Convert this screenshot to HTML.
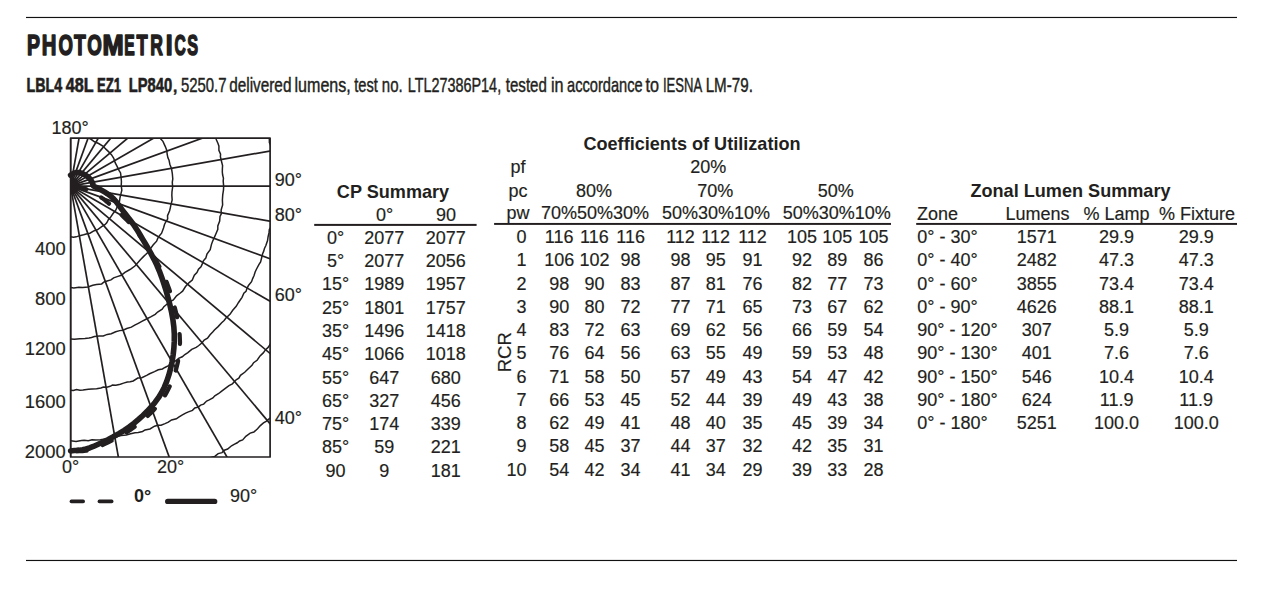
<!DOCTYPE html>
<html><head><meta charset="utf-8"><title>Photometrics</title>
<style>
html,body{margin:0;padding:0;background:#fff;}
body{width:1275px;height:616px;overflow:hidden;}
svg{display:block;}
svg text{font-family:"Liberation Sans", sans-serif;fill:#231f20;}
svg text.t{stroke:#231f20;stroke-width:0.18px;}
</style></head><body>
<svg width="1275" height="616" viewBox="0 0 1275 616">
<rect width="1275" height="616" fill="#fff"/>
<rect x="26" y="16.9" width="1211" height="1.15" fill="#111"/>
<rect x="26" y="559.9" width="1211" height="1.15" fill="#111"/>
<text transform="translate(26.99,54.8) scale(0.6807,1.0)" font-size="28.6" font-weight="bold" stroke="#231f20" stroke-width="1.6" stroke-linejoin="round">P</text>
<text transform="translate(41.63,54.8) scale(0.7082,1.0)" font-size="28.6" font-weight="bold" stroke="#231f20" stroke-width="1.6" stroke-linejoin="round">H</text>
<text transform="translate(58.56,54.8) scale(0.6490,1.0)" font-size="28.6" font-weight="bold" stroke="#231f20" stroke-width="1.6" stroke-linejoin="round">O</text>
<text transform="translate(74.11,54.8) scale(0.6756,1.0)" font-size="28.6" font-weight="bold" stroke="#231f20" stroke-width="1.6" stroke-linejoin="round">T</text>
<text transform="translate(87.35,54.8) scale(0.6540,1.0)" font-size="28.6" font-weight="bold" stroke="#231f20" stroke-width="1.6" stroke-linejoin="round">O</text>
<text transform="translate(102.58,54.8) scale(0.8891,1.0)" font-size="28.6" font-weight="bold" stroke="#231f20" stroke-width="1.6" stroke-linejoin="round">M</text>
<text transform="translate(124.34,54.8) scale(0.5495,1.0)" font-size="28.6" font-weight="bold" stroke="#231f20" stroke-width="1.6" stroke-linejoin="round">E</text>
<text transform="translate(136.52,54.8) scale(0.6400,1.0)" font-size="28.6" font-weight="bold" stroke="#231f20" stroke-width="1.6" stroke-linejoin="round">T</text>
<text transform="translate(150.22,54.8) scale(0.6136,1.0)" font-size="28.6" font-weight="bold" stroke="#231f20" stroke-width="1.6" stroke-linejoin="round">R</text>
<text transform="translate(165.64,54.8) scale(0.8588,1.0)" font-size="28.6" font-weight="bold" stroke="#231f20" stroke-width="1.6" stroke-linejoin="round">I</text>
<text transform="translate(174.38,54.8) scale(0.5445,1.0)" font-size="28.6" font-weight="bold" stroke="#231f20" stroke-width="1.6" stroke-linejoin="round">C</text>
<text transform="translate(187.31,54.8) scale(0.5676,1.0)" font-size="28.6" font-weight="bold" stroke="#231f20" stroke-width="1.6" stroke-linejoin="round">S</text>
<text transform="translate(26.54,91.7) scale(0.7007,1.0)" font-size="20.400000000000002" font-weight="bold" stroke="#231f20" stroke-width="0.65">LBL4</text>
<text transform="translate(65.86,91.7) scale(0.7919,1.0)" font-size="20.400000000000002" font-weight="bold" stroke="#231f20" stroke-width="0.65">48L</text>
<text transform="translate(97.01,91.7) scale(0.6461,1.0)" font-size="20.400000000000002" font-weight="bold" stroke="#231f20" stroke-width="0.65">EZ1</text>
<text transform="translate(128.70,91.7) scale(0.7238,1.0)" font-size="20.400000000000002" font-weight="bold" stroke="#231f20" stroke-width="0.65">LP840</text>
<text transform="translate(172.07,91.8) scale(1.0953,1.0)" font-size="20.6" stroke="#231f20" stroke-width="0.45">,</text>
<text transform="translate(180.90,91.8) scale(0.7247,1.0)" font-size="20.6" stroke="#231f20" stroke-width="0.45">5250.7</text>
<text transform="translate(229.25,91.8) scale(0.7443,1.0)" font-size="20.6" stroke="#231f20" stroke-width="0.45">delivered</text>
<text transform="translate(294.52,91.8) scale(0.7799,1.0)" font-size="20.6" stroke="#231f20" stroke-width="0.45">lumens,</text>
<text transform="translate(354.18,91.8) scale(0.7114,1.0)" font-size="20.6" stroke="#231f20" stroke-width="0.45">test</text>
<text transform="translate(381.79,91.8) scale(0.7286,1.0)" font-size="20.6" stroke="#231f20" stroke-width="0.45">no.</text>
<text transform="translate(407.71,91.8) scale(0.6995,1.0)" font-size="20.6" stroke="#231f20" stroke-width="0.45">LTL27386P14,</text>
<text transform="translate(505.77,91.8) scale(0.7323,1.0)" font-size="20.6" stroke="#231f20" stroke-width="0.45">tested</text>
<text transform="translate(551.01,91.8) scale(0.7872,1.0)" font-size="20.6" stroke="#231f20" stroke-width="0.45">in</text>
<text transform="translate(567.08,91.8) scale(0.7103,1.0)" font-size="20.6" stroke="#231f20" stroke-width="0.45">accordance</text>
<text transform="translate(645.46,91.8) scale(0.7867,1.0)" font-size="20.6" stroke="#231f20" stroke-width="0.45">to</text>
<text transform="translate(662.89,91.8) scale(0.6344,1.0)" font-size="20.6" stroke="#231f20" stroke-width="0.45">IESNA</text>
<text transform="translate(705.65,91.8) scale(0.7381,1.0)" font-size="20.6" stroke="#231f20" stroke-width="0.45">LM-79.</text>
<defs><clipPath id="bx"><rect x="70.6" y="138.1" width="199.50000000000003" height="318.9"/></clipPath></defs>
<g clip-path="url(#bx)" fill="none" stroke="#231f20">
<line x1="70.6" y1="186.1" x2="70.60" y2="686.10" stroke-width="1.7"/>
<line x1="70.6" y1="186.1" x2="157.42" y2="678.50" stroke-width="1.7"/>
<line x1="70.6" y1="186.1" x2="241.61" y2="655.95" stroke-width="1.7"/>
<line x1="70.6" y1="186.1" x2="320.60" y2="619.11" stroke-width="1.7"/>
<line x1="70.6" y1="186.1" x2="391.99" y2="569.12" stroke-width="1.7"/>
<line x1="70.6" y1="186.1" x2="453.62" y2="507.49" stroke-width="1.7"/>
<line x1="70.6" y1="186.1" x2="503.61" y2="436.10" stroke-width="1.7"/>
<line x1="70.6" y1="186.1" x2="540.45" y2="357.11" stroke-width="1.7"/>
<line x1="70.6" y1="186.1" x2="563.00" y2="272.92" stroke-width="1.7"/>
<line x1="70.6" y1="186.1" x2="570.60" y2="186.10" stroke-width="1.7"/>
<line x1="70.6" y1="186.1" x2="563.00" y2="99.28" stroke-width="1.7"/>
<line x1="70.6" y1="186.1" x2="540.45" y2="15.09" stroke-width="1.7"/>
<line x1="70.6" y1="186.1" x2="503.61" y2="-63.90" stroke-width="1.7"/>
<line x1="70.6" y1="186.1" x2="453.62" y2="-135.29" stroke-width="1.7"/>
<line x1="70.6" y1="186.1" x2="391.99" y2="-196.92" stroke-width="1.7"/>
<line x1="70.6" y1="186.1" x2="320.60" y2="-246.91" stroke-width="1.7"/>
<line x1="70.6" y1="186.1" x2="241.61" y2="-283.75" stroke-width="1.7"/>
<line x1="70.6" y1="186.1" x2="157.42" y2="-306.30" stroke-width="1.7"/>
<line x1="70.6" y1="186.1" x2="70.60" y2="-313.90" stroke-width="1.7"/>
<path d="M70.60,236.85 L73.56,237.23 L76.26,236.84 L79.70,235.65 L83.57,234.75 L87.17,233.69 L89.92,233.18 L94.23,230.70 L97.32,229.75 L101.69,226.66 L104.92,224.72 L106.75,222.78 L108.35,219.65 L110.34,217.63 L113.06,213.53 L115.76,210.21 L117.24,206.90 L117.63,204.17 L119.48,201.52 L119.99,197.74 L120.98,193.61 L121.84,190.28 L121.24,185.65 L121.42,181.43 L120.98,176.30 L120.56,172.91 L119.00,170.38 L116.97,166.08 L115.14,162.61 L113.75,158.22 L111.42,154.65 L109.02,152.14 L105.92,149.15 L103.25,146.30 L98.63,143.54 L94.51,141.75 L90.73,139.02 L85.64,136.90 L82.23,136.61 L77.75,136.28 L73.95,135.68 L71.13,135.72" stroke-width="1.5"/>
<path d="M70.60,287.58 L73.84,287.90 L78.90,287.17 L82.78,287.44 L87.95,287.07 L92.80,285.34 L96.46,284.56 L101.65,283.93 L104.11,281.96 L107.12,280.94 L110.97,279.91 L113.62,277.82 L117.20,276.63 L121.29,275.34 L124.91,272.46 L128.68,270.25 L131.04,268.96 L134.88,265.97 L138.19,262.29 L140.62,259.50 L143.68,256.37 L145.67,254.55 L147.78,252.44 L149.12,250.11 L151.05,247.89 L153.09,244.96 L156.63,241.19 L157.75,238.42 L159.65,235.44 L161.61,233.23 L163.52,228.05 L164.58,224.22 L165.93,221.75 L167.68,218.87 L167.52,215.69 L169.62,210.73 L170.31,207.87 L170.81,205.34 L172.16,200.04 L171.84,195.38 L171.97,191.79 L172.64,187.01 L172.29,182.18 L172.79,178.98 L172.32,173.52 L171.55,168.64 L169.82,164.17 L169.05,160.20 L167.92,157.84 L167.25,154.57 L166.65,149.92 L165.19,146.34 L162.95,141.32 L160.41,138.57 L158.85,135.81 L157.79,132.83 L155.21,128.29 L152.71,125.22 L149.07,121.85 L147.04,117.70 L143.54,114.30 L140.17,112.12 L136.70,108.73 L133.46,104.93 L130.02,103.36 L125.85,99.98 L122.85,99.11 L120.85,96.68 L116.00,95.31 L111.99,92.14 L107.51,91.24 L103.52,90.11 L101.48,88.19 L97.02,87.54 L91.83,86.43 L86.90,84.95 L83.68,85.29 L80.33,84.93 L76.10,84.59 L72.36,84.63" stroke-width="1.5"/>
<path d="M70.60,338.90 L74.48,339.17 L79.68,338.72 L84.92,338.43 L89.00,338.02 L91.51,337.58 L94.43,336.53 L99.28,335.92 L103.27,335.89 L107.21,334.40 L111.21,333.69 L115.69,331.73 L119.71,330.63 L123.10,330.22 L126.76,328.51 L131.38,327.14 L134.71,325.19 L138.28,323.34 L142.32,321.18 L145.93,319.24 L150.67,316.80 L155.20,314.33 L157.62,312.04 L162.19,309.25 L163.90,306.69 L166.84,304.27 L169.31,302.21 L173.36,299.99 L176.55,295.81 L180.34,293.03 L182.59,291.13 L185.53,286.50 L189.17,282.57 L192.28,279.97 L194.34,275.27 L196.93,272.46 L198.50,269.28 L200.98,266.76 L202.10,264.45 L203.37,260.77 L205.79,258.12 L206.94,254.18 L210.20,249.70 L211.48,244.35 L212.62,241.27 L214.59,236.86 L215.73,234.20 L217.82,229.36 L217.81,225.96 L219.67,221.01 L219.99,216.38 L221.32,213.92 L221.11,210.05 L222.63,204.91 L222.39,199.96 L222.74,194.92 L223.49,189.87 L223.67,186.35 L223.19,181.09 L223.43,178.19 L222.65,175.02 L222.32,172.07 L222.37,168.95 L222.57,165.48 L221.72,162.20 L221.01,159.24 L220.40,156.76 L220.56,154.13 L218.89,150.25 L218.93,146.19 L218.02,143.51 L216.48,140.00 L214.76,135.30 L213.76,131.38 L211.28,126.51 L209.72,121.74 L207.43,117.94 L205.38,115.02 L204.04,112.48 L201.92,108.26 L200.17,105.84 L198.39,101.02 L195.15,97.76 L193.27,95.15 L190.78,92.19 L188.50,89.11 L185.76,84.36 L182.22,81.98 L178.54,78.04 L175.69,75.86 L173.48,72.90 L170.23,70.54 L166.99,68.17 L164.50,66.03 L161.53,63.85 L159.68,62.05 L157.29,59.89 L154.02,57.42 L150.19,55.08 L145.53,52.88 L142.87,50.48 L140.08,49.43 L135.69,48.34 L131.62,45.20 L127.48,43.71 L122.57,42.73 L118.90,40.92 L114.24,39.01 L109.36,37.97 L104.35,36.61 L99.74,36.29 L97.17,35.95 L93.65,35.41 L88.78,34.10 L84.42,33.55 L79.88,33.40 L77.39,32.83 L72.63,33.11" stroke-width="1.5"/>
<path d="M70.60,390.32 L73.30,390.41 L76.54,389.42 L79.86,390.21 L82.98,390.06 L88.37,389.32 L92.00,388.94 L96.57,388.82 L100.86,388.05 L103.45,386.94 L106.81,387.21 L110.12,386.33 L112.46,385.13 L115.87,385.26 L120.33,384.20 L123.54,383.14 L127.27,382.02 L130.18,381.78 L133.18,380.97 L137.79,378.00 L141.81,377.74 L146.67,375.31 L149.60,373.74 L154.48,371.61 L158.28,369.74 L162.43,368.97 L164.94,367.48 L168.54,365.67 L172.12,362.61 L176.76,360.28 L178.59,358.35 L182.27,356.74 L184.86,354.49 L187.90,352.69 L191.70,349.40 L196.20,347.46 L198.52,345.77 L202.10,342.80 L204.18,340.05 L207.52,338.26 L210.06,334.71 L212.71,332.02 L214.42,329.99 L218.09,326.60 L221.66,322.68 L224.12,320.46 L225.98,318.01 L229.96,314.33 L232.73,310.22 L236.21,306.27 L238.37,302.70 L239.88,300.52 L242.04,297.32 L243.86,293.22 L246.00,291.43 L246.92,288.62 L248.46,285.43 L251.55,281.74 L252.66,278.61 L254.06,275.50 L255.14,271.95 L256.43,269.26 L258.87,264.64 L260.60,261.92 L261.97,256.56 L262.62,253.70 L263.72,251.15 L264.45,248.47 L265.87,245.49 L267.55,240.60 L268.06,236.86 L268.98,232.90 L269.33,229.38 L271.25,226.38 L271.16,223.42 L272.41,219.18 L272.08,215.94 L272.71,212.76 L273.95,209.04 L274.34,203.99 L273.37,201.34 L274.87,196.80 L274.61,192.86 L274.40,190.35 L275.05,185.07 L275.17,179.99 L273.84,176.79 L274.26,173.80 L274.52,169.22 L273.67,164.61 L272.85,159.87 L271.69,155.85 L271.18,151.03 L270.78,145.76 L269.37,142.57 L269.34,139.24 L267.53,134.96 L267.39,132.20 L266.04,128.16 L265.40,125.04 L264.23,122.76 L263.85,118.79 L262.25,114.64 L259.99,111.30 L259.72,107.91 L257.07,104.02 L256.26,101.57 L254.24,97.53 L253.11,94.44 L250.13,90.04 L249.03,87.68 L247.60,84.17 L246.17,81.41 L243.36,77.60 L242.23,74.62 L240.15,71.86 L237.66,69.70 L234.97,65.76 L231.97,61.31 L229.78,59.14 L227.90,55.84 L223.88,52.24 L221.51,49.44 L217.76,45.54 L215.83,43.72 L214.06,40.29 L210.18,36.88 L206.30,32.97 L202.98,31.46 L199.41,27.46 L197.31,25.93 L194.18,24.02 L191.22,22.15 L189.28,20.56 L186.92,17.74 L184.55,16.11 L181.47,15.10 L177.61,11.89 L173.80,10.86 L170.64,8.52 L165.91,6.22 L163.18,3.69 L160.55,3.14 L156.31,0.57 L153.50,0.42 L151.54,-1.80 L148.42,-2.85 L143.38,-4.23 L140.57,-6.21 L136.14,-6.73 L131.75,-8.25 L128.45,-8.80 L124.21,-11.33 L119.95,-12.48 L117.22,-12.12 L113.61,-13.97 L108.19,-14.25 L105.00,-14.88 L101.17,-16.20 L98.12,-16.46 L93.44,-17.07 L88.60,-17.25 L85.10,-17.13 L81.56,-18.00 L78.79,-17.31 L74.04,-17.52 L71.35,-17.25" stroke-width="1.5"/>
<path d="M70.60,440.86 L76.05,441.58 L81.49,440.54 L84.22,440.17 L88.26,440.78 L92.04,439.82 L95.82,440.02 L100.34,439.71 L105.33,438.96 L108.20,438.79 L111.49,437.90 L115.10,437.53 L118.02,436.29 L121.17,435.54 L126.33,435.05 L129.66,434.02 L135.01,432.84 L138.21,432.42 L142.58,431.45 L145.06,429.95 L149.95,428.94 L154.55,426.20 L157.77,425.17 L161.06,425.22 L165.01,423.63 L168.34,422.18 L171.55,419.90 L176.36,418.82 L178.72,417.19 L182.42,414.84 L185.60,413.14 L188.43,411.86 L192.48,410.33 L194.77,408.04 L198.26,407.13 L200.64,405.15 L203.65,404.12 L206.63,401.07 L209.24,399.95 L212.89,397.94 L214.81,395.84 L218.76,393.49 L221.38,391.41 L225.67,388.20 L229.01,385.67 L232.38,383.87 L236.15,379.81 L238.82,378.17 L240.47,375.35 L244.70,372.27 L248.27,368.83 L251.98,365.26 L253.62,362.69 L257.11,360.28 L260.07,355.91 L263.25,352.89 L265.61,349.64 L268.14,347.40 L270.98,342.92 L274.18,340.37 L276.71,335.52 L279.24,333.79 L281.80,328.95 L283.80,327.09 L285.77,323.99 L288.01,320.23 L289.51,317.65 L290.67,314.66 L293.68,310.57 L294.40,307.49 L296.51,304.42 L297.69,300.93 L299.89,298.40 L301.26,293.31 L303.91,289.92 L305.06,287.56 L305.87,284.80 L307.48,280.98 L308.46,277.69 L309.96,273.72 L311.49,269.51 L312.15,265.71 L314.10,261.77 L315.40,258.81 L316.32,254.04 L317.14,251.11 L317.37,248.26 L318.22,244.57 L319.64,240.98 L320.36,238.45 L321.05,235.78 L321.64,230.97 L322.08,228.35 L323.28,224.85 L323.57,221.95 L324.11,216.48 L323.90,211.48 L324.80,206.10 L325.76,200.77 L325.74,197.77 L324.91,192.45 L325.94,188.91 L326.16,185.93 L326.02,182.60 L325.52,179.68 L324.92,174.44 L325.17,171.14 L324.29,167.73 L324.22,164.69 L324.44,159.34 L323.14,154.27 L322.41,149.48 L322.51,145.33 L322.24,141.74 L321.08,137.71 L319.40,132.81 L318.92,127.30 L318.27,123.67 L317.70,120.40 L315.73,116.55 L314.49,111.92 L313.99,108.90 L313.28,106.35 L312.00,103.33 L310.11,98.22 L308.16,94.15 L306.89,91.97 L306.54,88.93 L304.93,85.48 L302.35,80.96 L301.68,77.77 L299.76,75.84 L298.32,72.58 L296.86,69.33 L295.33,65.33 L293.88,62.57 L291.36,59.49 L288.81,54.85 L287.10,52.44 L285.67,48.13 L282.46,44.43 L280.16,42.02 L278.25,37.95 L276.26,35.00 L274.30,31.68 L270.66,28.55 L267.17,24.67 L264.94,21.21 L262.48,19.10 L259.23,15.53 L257.38,11.59 L254.62,10.18 L251.91,6.78 L249.07,3.35 L246.41,1.76 L243.68,-0.30 L240.56,-4.54 L236.35,-6.78 L233.16,-10.81 L230.13,-13.26 L226.66,-15.08 L224.43,-16.80 L222.43,-18.49 L218.88,-21.69 L214.77,-24.60 L211.91,-26.26 L208.90,-28.62 L205.07,-30.18 L201.79,-33.32 L199.01,-34.82 L196.37,-35.34 L193.90,-37.50 L189.20,-40.03 L186.19,-41.79 L182.67,-42.55 L178.19,-45.29 L174.04,-47.23 L168.94,-49.13 L164.41,-51.32 L159.54,-52.79 L155.21,-54.56 L151.81,-55.20 L147.61,-56.37 L142.64,-57.99 L140.15,-58.66 L135.15,-60.37 L132.21,-60.67 L129.88,-62.19 L125.59,-63.18 L120.80,-63.29 L116.69,-64.51 L111.92,-65.98 L106.65,-65.73 L101.75,-67.58 L96.32,-67.05 L93.22,-67.35 L90.72,-68.59 L85.76,-68.64 L80.79,-68.88 L77.41,-68.25 L74.64,-69.23 L71.52,-68.65" stroke-width="1.5"/>
<path d="M70.60,491.43 L73.87,491.78 L78.51,491.81 L82.00,492.54 L86.01,492.20 L90.29,490.81 L94.05,491.11 L98.84,490.58 L103.46,490.38 L106.64,490.48 L109.39,490.08 L112.23,488.55 L115.45,489.17 L120.65,487.28 L124.68,487.27 L129.40,485.95 L133.34,485.38 L138.19,484.20 L143.39,483.01 L146.58,482.81 L150.23,480.99 L154.46,479.77 L159.37,479.23 L163.98,477.69 L167.27,476.28 L170.98,475.74 L173.59,474.83 L175.69,473.05 L179.11,472.81 L182.59,470.69 L187.28,468.58 L191.02,467.46 L195.51,465.83 L199.32,463.48 L202.35,461.75 L207.18,460.18 L211.08,457.43 L214.85,456.40 L218.14,453.58 L222.05,452.61 L224.35,450.17 L227.65,449.06 L231.55,445.79 L234.13,444.32 L237.26,442.77 L239.60,440.91 L242.66,439.95 L245.82,436.28 L250.20,433.16 L253.88,431.99 L257.56,428.75 L260.10,425.82 L263.46,422.96 L266.12,421.29 L268.12,419.63 L272.08,416.77 L275.02,414.05 L277.44,410.93 L280.84,408.26 L284.74,405.49 L287.11,402.49 L290.28,398.96 L292.79,396.95 L296.36,393.23 L299.53,389.89 L302.30,386.28 L304.46,383.04 L307.02,379.48 L310.13,377.16 L312.83,373.38 L314.57,370.62 L317.11,367.69 L319.36,364.71 L321.85,359.99 L325.05,356.77 L326.74,353.49 L329.13,348.59 L331.45,345.18 L334.87,341.58 L335.89,337.48 L338.49,334.10 L340.68,329.99 L343.12,326.28 L344.43,322.39 L346.52,317.46 L348.68,313.45 L350.29,308.93 L352.73,304.05 L353.65,301.55 L354.68,297.98 L356.57,294.69 L358.07,290.35 L359.01,287.19 L361.49,283.04 L361.79,278.85 L363.47,274.24 L364.01,271.13 L366.23,266.74 L366.90,262.36 L367.59,258.22 L368.98,253.01 L370.56,248.83 L371.05,243.88 L371.78,240.58 L372.67,237.81 L373.28,234.29 L373.12,230.93 L373.65,227.71 L373.47,224.60 L374.41,220.03 L374.78,216.81 L375.32,212.91 L376.00,208.54 L376.62,204.98 L375.67,199.86 L377.04,194.92 L376.07,190.05 L376.78,185.06 L375.90,182.53 L376.69,177.16 L375.80,173.94 L375.85,171.01 L375.74,166.18 L376.31,163.18 L374.88,158.40 L374.98,153.20 L374.50,148.37 L373.99,143.21 L372.43,138.37 L372.14,133.78 L371.17,129.15 L370.33,124.07 L369.20,120.95 L368.92,118.02 L368.28,115.42 L367.62,112.57 L366.70,108.68 L364.65,103.96 L363.89,98.97 L362.93,94.88 L361.01,90.22 L360.58,86.40 L359.26,83.97 L356.96,80.12 L356.28,75.75 L353.87,71.00 L352.01,65.88 L350.93,62.04 L349.64,59.76 L347.32,56.01 L345.16,51.41 L343.61,47.80 L341.01,43.73 L339.48,40.24 L337.96,36.32 L336.29,33.38 L334.03,30.40 L332.33,27.55 L329.66,22.82 L326.64,18.97 L324.70,16.11 L322.70,12.33 L319.23,8.83 L317.45,4.36 L314.04,1.75 L311.93,-0.91 L311.05,-4.12 L308.05,-7.27 L305.21,-11.24 L302.08,-14.28 L299.27,-17.65 L296.38,-20.82 L294.23,-23.11 L291.66,-26.01 L289.13,-27.46 L287.89,-29.90 L284.04,-33.48 L281.60,-36.15 L277.79,-39.20 L275.13,-41.13 L272.33,-43.65 L269.76,-46.48 L265.18,-49.26 L261.92,-51.89 L260.35,-54.51 L257.11,-57.23 L253.28,-58.54 L250.82,-61.36 L246.81,-64.90 L243.12,-66.48 L240.98,-68.32 L237.98,-69.48 L235.74,-70.69 L231.99,-73.26 L227.36,-76.02 L222.99,-78.65 L221.19,-80.64 L218.37,-82.23 L215.23,-82.85 L211.40,-85.92 L206.89,-88.23 L204.35,-89.32 L200.07,-91.10 L195.14,-93.03 L190.45,-95.78 L187.74,-95.86 L184.04,-98.58 L181.23,-98.92 L176.78,-100.39 L172.15,-102.54 L169.57,-103.26 L165.59,-104.69 L161.16,-105.67 L156.57,-107.38 L152.40,-108.95 L148.69,-109.60 L144.17,-111.56 L139.33,-112.18 L135.88,-112.23 L130.76,-114.22 L125.77,-114.65 L121.67,-116.29 L116.65,-116.56 L113.22,-116.82 L108.10,-117.42 L103.61,-118.26 L98.47,-119.06 L95.04,-118.22 L91.81,-119.06 L87.59,-119.87 L82.38,-119.03 L77.42,-120.26 L72.31,-120.00" stroke-width="1.5"/>
<circle cx="70.6" cy="186.1" r="8.5" fill="#231f20" stroke="none"/>
</g>
<rect x="70.6" y="138.1" width="199.50000000000003" height="318.9" fill="none" stroke="#231f20" stroke-width="1.7" stroke-linejoin="round"/>
<path d="M70.60,450.92 L72.25,450.89 L74.30,451.00 L76.72,451.15 L79.50,451.23 L82.60,451.14 L86.00,450.77 L89.67,450.01 L93.58,448.77 L97.94,447.03 L102.87,444.89 L108.19,442.41 L113.75,439.63 L119.37,436.60 L124.90,433.37 L130.17,429.99 L135.01,426.50 L139.58,422.91 L144.07,419.17 L148.45,415.27 L152.66,411.17 L156.65,406.85 L160.37,402.29 L163.77,397.47 L166.78,392.36 L169.50,386.94 L172.01,381.21 L174.26,375.22 L176.21,368.98 L177.80,362.54 L179.00,355.93 L179.75,349.19 L180.00,342.35 L179.71,335.23 L178.90,327.76 L177.63,320.04 L175.96,312.20 L173.97,304.37 L171.72,296.68 L169.28,289.25 L166.71,282.21 L163.87,275.43 L160.64,268.75 L157.11,262.21 L153.38,255.86 L149.53,249.76 L145.65,243.96 L141.83,238.49 L138.17,233.42 L134.56,228.73 L130.84,224.39 L127.09,220.37 L123.36,216.65 L119.72,213.22 L116.22,210.05 L112.92,207.12 L109.89,204.42 L107.13,202.01 L104.60,199.95 L102.26,198.17 L100.06,196.64 L97.98,195.29 L95.97,194.07 L94.00,192.94 L92.03,191.84 L90.05,190.82 L88.09,189.94 L86.18,189.19 L84.34,188.55 L82.59,188.01 L80.95,187.54 L79.45,187.13 L78.09,186.76 L76.89,186.46 L75.82,186.26 L74.88,186.16 L74.05,186.11 L73.33,186.10 L72.71,186.11 L72.19,186.12 L71.75,186.10" fill="none" stroke="#231f20" stroke-width="4.2" stroke-dasharray="10 17" stroke-dashoffset="21" stroke-linecap="round"/>
<path d="M70.60,450.92 L72.23,450.70 L74.27,450.56 L76.68,450.41 L79.44,450.16 L82.52,449.72 L85.89,449.02 L89.52,447.97 L93.38,446.48 L97.69,444.56 L102.55,442.28 L107.81,439.68 L113.29,436.80 L118.83,433.67 L124.26,430.34 L129.41,426.82 L134.12,423.17 L138.54,419.40 L142.90,415.46 L147.12,411.35 L151.17,407.02 L154.97,402.47 L158.47,397.66 L161.62,392.56 L164.36,387.16 L166.73,381.38 L168.80,375.21 L170.56,368.72 L172.01,362.00 L173.12,355.10 L173.88,348.12 L174.28,341.13 L174.30,334.20 L173.86,327.16 L172.94,319.88 L171.61,312.46 L169.95,305.02 L168.05,297.66 L165.98,290.49 L163.82,283.62 L161.66,277.16 L159.36,271.03 L156.79,265.10 L154.03,259.38 L151.16,253.90 L148.25,248.68 L145.37,243.73 L142.62,239.07 L140.05,234.73 L137.63,230.74 L135.24,227.11 L132.91,223.77 L130.65,220.71 L128.47,217.88 L126.39,215.23 L124.43,212.74 L122.60,210.35 L120.95,208.13 L119.50,206.15 L118.19,204.38 L116.96,202.76 L115.77,201.27 L114.56,199.87 L113.27,198.51 L111.86,197.15 L110.27,195.82 L108.54,194.54 L106.73,193.32 L104.90,192.18 L103.12,191.13 L101.45,190.17 L99.94,189.31 L98.67,188.56 L97.63,187.96 L96.76,187.54 L96.04,187.24 L95.44,187.03 L94.93,186.85 L94.49,186.67 L94.08,186.43 L93.68,186.10 L93.33,185.68 L93.08,185.23 L92.90,184.75 L92.76,184.25 L92.65,183.74 L92.53,183.24 L92.39,182.75 L92.20,182.29 L91.96,181.85 L91.71,181.42 L91.45,181.00 L91.17,180.59 L90.89,180.19 L90.60,179.79 L90.31,179.41 L90.01,179.04 L89.72,178.68 L89.46,178.35 L89.20,178.03 L88.93,177.72 L88.63,177.41 L88.29,177.09 L87.87,176.76 L87.38,176.41 L86.80,176.02 L86.13,175.59 L85.39,175.13 L84.61,174.68 L83.80,174.24 L82.99,173.83 L82.19,173.48 L81.42,173.21 L80.67,172.99 L79.91,172.82 L79.14,172.68 L78.38,172.59 L77.63,172.54 L76.89,172.54 L76.18,172.59 L75.48,172.68 L74.79,172.86 L74.07,173.14 L73.36,173.49 L72.67,173.88 L72.03,174.26 L71.45,174.62 L70.97,174.93 L70.60,175.13" fill="none" stroke="#231f20" stroke-width="5.6" stroke-linejoin="round" stroke-linecap="round"/>
<text class="t" x="88.70" y="134.00" text-anchor="end" font-size="18">180°</text>
<text class="t" x="274.70" y="186.10" text-anchor="start" font-size="18">90°</text>
<text class="t" x="274.70" y="220.70" text-anchor="start" font-size="18">80°</text>
<text class="t" x="274.70" y="301.10" text-anchor="start" font-size="18">60°</text>
<text class="t" x="274.70" y="424.30" text-anchor="start" font-size="18">40°</text>
<text class="t" transform="translate(65.60,254.50) scale(1.02,1)" text-anchor="end" font-size="18">400</text>
<text class="t" transform="translate(65.60,304.60) scale(1.02,1)" text-anchor="end" font-size="18">800</text>
<text class="t" transform="translate(65.60,355.40) scale(1.02,1)" text-anchor="end" font-size="18">1200</text>
<text class="t" transform="translate(65.60,407.60) scale(1.02,1)" text-anchor="end" font-size="18">1600</text>
<text class="t" transform="translate(65.60,457.90) scale(1.02,1)" text-anchor="end" font-size="18">2000</text>
<text class="t" x="70.60" y="473.20" text-anchor="middle" font-size="18">0°</text>
<text class="t" x="170.50" y="473.20" text-anchor="middle" font-size="18">20°</text>
<line x1="71.4" y1="501.4" x2="83.2" y2="501.4" stroke="#231f20" stroke-width="3.6" stroke-linecap="round"/>
<line x1="99.4" y1="501.4" x2="111.7" y2="501.4" stroke="#231f20" stroke-width="3.6" stroke-linecap="round"/>
<text class="t" x="134.00" y="502.20" text-anchor="start" font-size="18" font-weight="bold" style="stroke:none">0°</text>
<line x1="167.7" y1="501.4" x2="214.7" y2="501.4" stroke="#231f20" stroke-width="5.3" stroke-linecap="round"/>
<text class="t" x="230.00" y="502.20" text-anchor="start" font-size="18">90°</text>
<text class="t" x="393.00" y="197.80" text-anchor="middle" font-size="18.1" font-weight="bold" style="stroke:none">CP Summary</text>
<text class="t" x="384.50" y="220.63" text-anchor="middle" font-size="18.0">0°</text>
<text class="t" x="446.00" y="220.63" text-anchor="middle" font-size="18.0">90</text>
<rect x="314.2" y="223.9" width="162.4" height="2" fill="#231f20"/>
<text class="t" x="335.50" y="243.90" text-anchor="middle" font-size="18.0">0°</text>
<text class="t" x="384.30" y="243.90" text-anchor="middle" font-size="18.0">2077</text>
<text class="t" x="445.80" y="243.90" text-anchor="middle" font-size="18.0">2077</text>
<text class="t" x="335.50" y="267.17" text-anchor="middle" font-size="18.0">5°</text>
<text class="t" x="384.30" y="267.17" text-anchor="middle" font-size="18.0">2077</text>
<text class="t" x="445.80" y="267.17" text-anchor="middle" font-size="18.0">2056</text>
<text class="t" x="335.50" y="290.44" text-anchor="middle" font-size="18.0">15°</text>
<text class="t" x="384.30" y="290.44" text-anchor="middle" font-size="18.0">1989</text>
<text class="t" x="445.80" y="290.44" text-anchor="middle" font-size="18.0">1957</text>
<text class="t" x="335.50" y="313.71" text-anchor="middle" font-size="18.0">25°</text>
<text class="t" x="384.30" y="313.71" text-anchor="middle" font-size="18.0">1801</text>
<text class="t" x="445.80" y="313.71" text-anchor="middle" font-size="18.0">1757</text>
<text class="t" x="335.50" y="336.98" text-anchor="middle" font-size="18.0">35°</text>
<text class="t" x="384.30" y="336.98" text-anchor="middle" font-size="18.0">1496</text>
<text class="t" x="445.80" y="336.98" text-anchor="middle" font-size="18.0">1418</text>
<text class="t" x="335.50" y="360.25" text-anchor="middle" font-size="18.0">45°</text>
<text class="t" x="384.30" y="360.25" text-anchor="middle" font-size="18.0">1066</text>
<text class="t" x="445.80" y="360.25" text-anchor="middle" font-size="18.0">1018</text>
<text class="t" x="335.50" y="383.52" text-anchor="middle" font-size="18.0">55°</text>
<text class="t" x="384.30" y="383.52" text-anchor="middle" font-size="18.0">647</text>
<text class="t" x="445.80" y="383.52" text-anchor="middle" font-size="18.0">680</text>
<text class="t" x="335.50" y="406.79" text-anchor="middle" font-size="18.0">65°</text>
<text class="t" x="384.30" y="406.79" text-anchor="middle" font-size="18.0">327</text>
<text class="t" x="445.80" y="406.79" text-anchor="middle" font-size="18.0">456</text>
<text class="t" x="335.50" y="430.06" text-anchor="middle" font-size="18.0">75°</text>
<text class="t" x="384.30" y="430.06" text-anchor="middle" font-size="18.0">174</text>
<text class="t" x="445.80" y="430.06" text-anchor="middle" font-size="18.0">339</text>
<text class="t" x="335.50" y="453.33" text-anchor="middle" font-size="18.0">85°</text>
<text class="t" x="384.30" y="453.33" text-anchor="middle" font-size="18.0">59</text>
<text class="t" x="445.80" y="453.33" text-anchor="middle" font-size="18.0">221</text>
<text class="t" x="335.50" y="476.60" text-anchor="middle" font-size="18.0">90</text>
<text class="t" x="384.30" y="476.60" text-anchor="middle" font-size="18.0">9</text>
<text class="t" x="445.80" y="476.60" text-anchor="middle" font-size="18.0">181</text>
<text class="t" x="692.00" y="149.50" text-anchor="middle" font-size="18.1" font-weight="bold" style="stroke:none">Coefficients of Utilization</text>
<text class="t" x="518.00" y="172.80" text-anchor="middle" font-size="18.0">pf</text>
<text class="t" x="708.30" y="172.80" text-anchor="middle" font-size="18.0">20%</text>
<text class="t" x="518.00" y="196.80" text-anchor="middle" font-size="18.0">pc</text>
<text class="t" x="594.00" y="196.80" text-anchor="middle" font-size="18.0">80%</text>
<text class="t" x="715.20" y="196.80" text-anchor="middle" font-size="18.0">70%</text>
<text class="t" x="835.80" y="196.80" text-anchor="middle" font-size="18.0">50%</text>
<text class="t" x="518.00" y="219.10" text-anchor="middle" font-size="18.0">pw</text>
<text class="t" x="595.00" y="219.10" text-anchor="middle" font-size="18.0">70%50%30%</text>
<text class="t" x="716.00" y="219.10" text-anchor="middle" font-size="18.0">50%30%10%</text>
<text class="t" x="836.80" y="219.10" text-anchor="middle" font-size="18.0">50%30%10%</text>
<rect x="494.1" y="222.95" width="396.9" height="1.95" fill="#231f20"/>
<text class="t" x="526.60" y="243.00" text-anchor="end" font-size="18.0">0</text>
<text class="t" x="559.20" y="243.00" text-anchor="middle" font-size="18.0">116</text>
<text class="t" x="594.40" y="243.00" text-anchor="middle" font-size="18.0">116</text>
<text class="t" x="630.60" y="243.00" text-anchor="middle" font-size="18.0">116</text>
<text class="t" x="680.50" y="243.00" text-anchor="middle" font-size="18.0">112</text>
<text class="t" x="715.70" y="243.00" text-anchor="middle" font-size="18.0">112</text>
<text class="t" x="752.50" y="243.00" text-anchor="middle" font-size="18.0">112</text>
<text class="t" x="802.00" y="243.00" text-anchor="middle" font-size="18.0">105</text>
<text class="t" x="837.20" y="243.00" text-anchor="middle" font-size="18.0">105</text>
<text class="t" x="873.50" y="243.00" text-anchor="middle" font-size="18.0">105</text>
<text class="t" x="526.60" y="266.27" text-anchor="end" font-size="18.0">1</text>
<text class="t" x="559.20" y="266.27" text-anchor="middle" font-size="18.0">106</text>
<text class="t" x="594.40" y="266.27" text-anchor="middle" font-size="18.0">102</text>
<text class="t" x="630.60" y="266.27" text-anchor="middle" font-size="18.0">98</text>
<text class="t" x="680.50" y="266.27" text-anchor="middle" font-size="18.0">98</text>
<text class="t" x="715.70" y="266.27" text-anchor="middle" font-size="18.0">95</text>
<text class="t" x="752.50" y="266.27" text-anchor="middle" font-size="18.0">91</text>
<text class="t" x="802.00" y="266.27" text-anchor="middle" font-size="18.0">92</text>
<text class="t" x="837.20" y="266.27" text-anchor="middle" font-size="18.0">89</text>
<text class="t" x="873.50" y="266.27" text-anchor="middle" font-size="18.0">86</text>
<text class="t" x="526.60" y="289.54" text-anchor="end" font-size="18.0">2</text>
<text class="t" x="559.20" y="289.54" text-anchor="middle" font-size="18.0">98</text>
<text class="t" x="594.40" y="289.54" text-anchor="middle" font-size="18.0">90</text>
<text class="t" x="630.60" y="289.54" text-anchor="middle" font-size="18.0">83</text>
<text class="t" x="680.50" y="289.54" text-anchor="middle" font-size="18.0">87</text>
<text class="t" x="715.70" y="289.54" text-anchor="middle" font-size="18.0">81</text>
<text class="t" x="752.50" y="289.54" text-anchor="middle" font-size="18.0">76</text>
<text class="t" x="802.00" y="289.54" text-anchor="middle" font-size="18.0">82</text>
<text class="t" x="837.20" y="289.54" text-anchor="middle" font-size="18.0">77</text>
<text class="t" x="873.50" y="289.54" text-anchor="middle" font-size="18.0">73</text>
<text class="t" x="526.60" y="312.81" text-anchor="end" font-size="18.0">3</text>
<text class="t" x="559.20" y="312.81" text-anchor="middle" font-size="18.0">90</text>
<text class="t" x="594.40" y="312.81" text-anchor="middle" font-size="18.0">80</text>
<text class="t" x="630.60" y="312.81" text-anchor="middle" font-size="18.0">72</text>
<text class="t" x="680.50" y="312.81" text-anchor="middle" font-size="18.0">77</text>
<text class="t" x="715.70" y="312.81" text-anchor="middle" font-size="18.0">71</text>
<text class="t" x="752.50" y="312.81" text-anchor="middle" font-size="18.0">65</text>
<text class="t" x="802.00" y="312.81" text-anchor="middle" font-size="18.0">73</text>
<text class="t" x="837.20" y="312.81" text-anchor="middle" font-size="18.0">67</text>
<text class="t" x="873.50" y="312.81" text-anchor="middle" font-size="18.0">62</text>
<text class="t" x="526.60" y="336.08" text-anchor="end" font-size="18.0">4</text>
<text class="t" x="559.20" y="336.08" text-anchor="middle" font-size="18.0">83</text>
<text class="t" x="594.40" y="336.08" text-anchor="middle" font-size="18.0">72</text>
<text class="t" x="630.60" y="336.08" text-anchor="middle" font-size="18.0">63</text>
<text class="t" x="680.50" y="336.08" text-anchor="middle" font-size="18.0">69</text>
<text class="t" x="715.70" y="336.08" text-anchor="middle" font-size="18.0">62</text>
<text class="t" x="752.50" y="336.08" text-anchor="middle" font-size="18.0">56</text>
<text class="t" x="802.00" y="336.08" text-anchor="middle" font-size="18.0">66</text>
<text class="t" x="837.20" y="336.08" text-anchor="middle" font-size="18.0">59</text>
<text class="t" x="873.50" y="336.08" text-anchor="middle" font-size="18.0">54</text>
<text class="t" x="526.60" y="359.35" text-anchor="end" font-size="18.0">5</text>
<text class="t" x="559.20" y="359.35" text-anchor="middle" font-size="18.0">76</text>
<text class="t" x="594.40" y="359.35" text-anchor="middle" font-size="18.0">64</text>
<text class="t" x="630.60" y="359.35" text-anchor="middle" font-size="18.0">56</text>
<text class="t" x="680.50" y="359.35" text-anchor="middle" font-size="18.0">63</text>
<text class="t" x="715.70" y="359.35" text-anchor="middle" font-size="18.0">55</text>
<text class="t" x="752.50" y="359.35" text-anchor="middle" font-size="18.0">49</text>
<text class="t" x="802.00" y="359.35" text-anchor="middle" font-size="18.0">59</text>
<text class="t" x="837.20" y="359.35" text-anchor="middle" font-size="18.0">53</text>
<text class="t" x="873.50" y="359.35" text-anchor="middle" font-size="18.0">48</text>
<text class="t" x="526.60" y="382.62" text-anchor="end" font-size="18.0">6</text>
<text class="t" x="559.20" y="382.62" text-anchor="middle" font-size="18.0">71</text>
<text class="t" x="594.40" y="382.62" text-anchor="middle" font-size="18.0">58</text>
<text class="t" x="630.60" y="382.62" text-anchor="middle" font-size="18.0">50</text>
<text class="t" x="680.50" y="382.62" text-anchor="middle" font-size="18.0">57</text>
<text class="t" x="715.70" y="382.62" text-anchor="middle" font-size="18.0">49</text>
<text class="t" x="752.50" y="382.62" text-anchor="middle" font-size="18.0">43</text>
<text class="t" x="802.00" y="382.62" text-anchor="middle" font-size="18.0">54</text>
<text class="t" x="837.20" y="382.62" text-anchor="middle" font-size="18.0">47</text>
<text class="t" x="873.50" y="382.62" text-anchor="middle" font-size="18.0">42</text>
<text class="t" x="526.60" y="405.89" text-anchor="end" font-size="18.0">7</text>
<text class="t" x="559.20" y="405.89" text-anchor="middle" font-size="18.0">66</text>
<text class="t" x="594.40" y="405.89" text-anchor="middle" font-size="18.0">53</text>
<text class="t" x="630.60" y="405.89" text-anchor="middle" font-size="18.0">45</text>
<text class="t" x="680.50" y="405.89" text-anchor="middle" font-size="18.0">52</text>
<text class="t" x="715.70" y="405.89" text-anchor="middle" font-size="18.0">44</text>
<text class="t" x="752.50" y="405.89" text-anchor="middle" font-size="18.0">39</text>
<text class="t" x="802.00" y="405.89" text-anchor="middle" font-size="18.0">49</text>
<text class="t" x="837.20" y="405.89" text-anchor="middle" font-size="18.0">43</text>
<text class="t" x="873.50" y="405.89" text-anchor="middle" font-size="18.0">38</text>
<text class="t" x="526.60" y="429.16" text-anchor="end" font-size="18.0">8</text>
<text class="t" x="559.20" y="429.16" text-anchor="middle" font-size="18.0">62</text>
<text class="t" x="594.40" y="429.16" text-anchor="middle" font-size="18.0">49</text>
<text class="t" x="630.60" y="429.16" text-anchor="middle" font-size="18.0">41</text>
<text class="t" x="680.50" y="429.16" text-anchor="middle" font-size="18.0">48</text>
<text class="t" x="715.70" y="429.16" text-anchor="middle" font-size="18.0">40</text>
<text class="t" x="752.50" y="429.16" text-anchor="middle" font-size="18.0">35</text>
<text class="t" x="802.00" y="429.16" text-anchor="middle" font-size="18.0">45</text>
<text class="t" x="837.20" y="429.16" text-anchor="middle" font-size="18.0">39</text>
<text class="t" x="873.50" y="429.16" text-anchor="middle" font-size="18.0">34</text>
<text class="t" x="526.60" y="452.43" text-anchor="end" font-size="18.0">9</text>
<text class="t" x="559.20" y="452.43" text-anchor="middle" font-size="18.0">58</text>
<text class="t" x="594.40" y="452.43" text-anchor="middle" font-size="18.0">45</text>
<text class="t" x="630.60" y="452.43" text-anchor="middle" font-size="18.0">37</text>
<text class="t" x="680.50" y="452.43" text-anchor="middle" font-size="18.0">44</text>
<text class="t" x="715.70" y="452.43" text-anchor="middle" font-size="18.0">37</text>
<text class="t" x="752.50" y="452.43" text-anchor="middle" font-size="18.0">32</text>
<text class="t" x="802.00" y="452.43" text-anchor="middle" font-size="18.0">42</text>
<text class="t" x="837.20" y="452.43" text-anchor="middle" font-size="18.0">35</text>
<text class="t" x="873.50" y="452.43" text-anchor="middle" font-size="18.0">31</text>
<text class="t" x="526.60" y="475.70" text-anchor="end" font-size="18.0">10</text>
<text class="t" x="559.20" y="475.70" text-anchor="middle" font-size="18.0">54</text>
<text class="t" x="594.40" y="475.70" text-anchor="middle" font-size="18.0">42</text>
<text class="t" x="630.60" y="475.70" text-anchor="middle" font-size="18.0">34</text>
<text class="t" x="680.50" y="475.70" text-anchor="middle" font-size="18.0">41</text>
<text class="t" x="715.70" y="475.70" text-anchor="middle" font-size="18.0">34</text>
<text class="t" x="752.50" y="475.70" text-anchor="middle" font-size="18.0">29</text>
<text class="t" x="802.00" y="475.70" text-anchor="middle" font-size="18.0">39</text>
<text class="t" x="837.20" y="475.70" text-anchor="middle" font-size="18.0">33</text>
<text class="t" x="873.50" y="475.70" text-anchor="middle" font-size="18.0">28</text>
<text transform="translate(511,352.2) rotate(-90) scale(1.03,1)" text-anchor="middle" font-size="18.0" class="t">RCR</text>
<text class="t" x="1070.50" y="196.90" text-anchor="middle" font-size="18.1" font-weight="bold" style="stroke:none">Zonal Lumen Summary</text>
<text class="t" x="917.00" y="219.60" text-anchor="start" font-size="18.0">Zone</text>
<text class="t" x="1037.60" y="219.60" text-anchor="middle" font-size="18.0">Lumens</text>
<text class="t" x="1116.60" y="219.60" text-anchor="middle" font-size="18.0">% Lamp</text>
<text class="t" x="1196.90" y="219.60" text-anchor="middle" font-size="18.0">% Fixture</text>
<rect x="916.2" y="222.95" width="320.8" height="1.95" fill="#231f20"/>
<text class="t" x="917.20" y="243.00" text-anchor="start" font-size="18.0">0° - 30°</text>
<text class="t" x="1036.80" y="243.00" text-anchor="middle" font-size="18.0">1571</text>
<text class="t" x="1116.60" y="243.00" text-anchor="middle" font-size="18.0">29.9</text>
<text class="t" x="1196.20" y="243.00" text-anchor="middle" font-size="18.0">29.9</text>
<text class="t" x="917.20" y="266.27" text-anchor="start" font-size="18.0">0° - 40°</text>
<text class="t" x="1036.80" y="266.27" text-anchor="middle" font-size="18.0">2482</text>
<text class="t" x="1116.60" y="266.27" text-anchor="middle" font-size="18.0">47.3</text>
<text class="t" x="1196.20" y="266.27" text-anchor="middle" font-size="18.0">47.3</text>
<text class="t" x="917.20" y="289.54" text-anchor="start" font-size="18.0">0° - 60°</text>
<text class="t" x="1036.80" y="289.54" text-anchor="middle" font-size="18.0">3855</text>
<text class="t" x="1116.60" y="289.54" text-anchor="middle" font-size="18.0">73.4</text>
<text class="t" x="1196.20" y="289.54" text-anchor="middle" font-size="18.0">73.4</text>
<text class="t" x="917.20" y="312.81" text-anchor="start" font-size="18.0">0° - 90°</text>
<text class="t" x="1036.80" y="312.81" text-anchor="middle" font-size="18.0">4626</text>
<text class="t" x="1116.60" y="312.81" text-anchor="middle" font-size="18.0">88.1</text>
<text class="t" x="1196.20" y="312.81" text-anchor="middle" font-size="18.0">88.1</text>
<text class="t" x="917.20" y="336.08" text-anchor="start" font-size="18.0">90° - 120°</text>
<text class="t" x="1036.80" y="336.08" text-anchor="middle" font-size="18.0">307</text>
<text class="t" x="1116.60" y="336.08" text-anchor="middle" font-size="18.0">5.9</text>
<text class="t" x="1196.20" y="336.08" text-anchor="middle" font-size="18.0">5.9</text>
<text class="t" x="917.20" y="359.35" text-anchor="start" font-size="18.0">90° - 130°</text>
<text class="t" x="1036.80" y="359.35" text-anchor="middle" font-size="18.0">401</text>
<text class="t" x="1116.60" y="359.35" text-anchor="middle" font-size="18.0">7.6</text>
<text class="t" x="1196.20" y="359.35" text-anchor="middle" font-size="18.0">7.6</text>
<text class="t" x="917.20" y="382.62" text-anchor="start" font-size="18.0">90° - 150°</text>
<text class="t" x="1036.80" y="382.62" text-anchor="middle" font-size="18.0">546</text>
<text class="t" x="1116.60" y="382.62" text-anchor="middle" font-size="18.0">10.4</text>
<text class="t" x="1196.20" y="382.62" text-anchor="middle" font-size="18.0">10.4</text>
<text class="t" x="917.20" y="405.89" text-anchor="start" font-size="18.0">90° - 180°</text>
<text class="t" x="1036.80" y="405.89" text-anchor="middle" font-size="18.0">624</text>
<text class="t" x="1116.60" y="405.89" text-anchor="middle" font-size="18.0">11.9</text>
<text class="t" x="1196.20" y="405.89" text-anchor="middle" font-size="18.0">11.9</text>
<text class="t" x="917.20" y="429.16" text-anchor="start" font-size="18.0">0° - 180°</text>
<text class="t" x="1036.80" y="429.16" text-anchor="middle" font-size="18.0">5251</text>
<text class="t" x="1116.60" y="429.16" text-anchor="middle" font-size="18.0">100.0</text>
<text class="t" x="1196.20" y="429.16" text-anchor="middle" font-size="18.0">100.0</text>
</svg>
</body></html>
